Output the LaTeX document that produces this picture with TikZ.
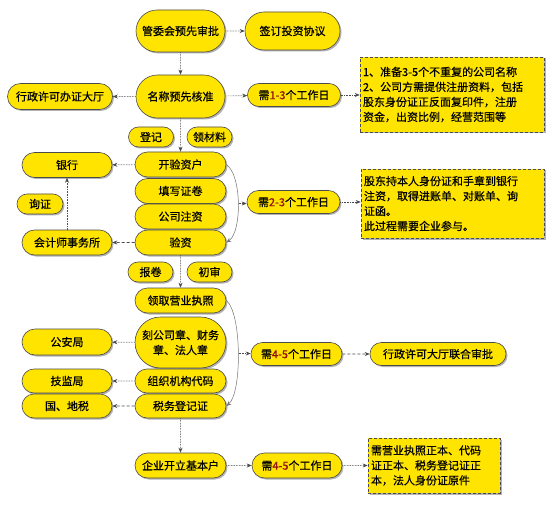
\documentclass[tikz,border=0pt]{standalone}
\usepackage{fontspec}
\setmainfont{Noto Sans CJK SC}[FakeBold=0.6]
\usetikzlibrary{shapes.misc,shadows,arrows.meta}
\definecolor{fillY}{RGB}{255,228,0}
\definecolor{edgeG}{RGB}{75,75,75}
\definecolor{digitR}{RGB}{150,20,20}
\newcommand{\dg}[1]{\textcolor{digitR}{#1}}
\begin{document}
\begin{tikzpicture}[x=1pt,y=-1pt,
  pill/.style={rounded rectangle, draw=edgeG, line width=0.6pt, fill=fillY,
    inner sep=0pt, align=center,
    drop shadow={shadow xshift=1.5pt,shadow yshift=-1.5pt,fill=black!30,opacity=1},
    font=\fontsize{11}{15}\selectfont},
  tbox/.style={rectangle, draw=edgeG, line width=0.6pt, densely dashed, fill=fillY,
    inner sep=0pt, align=left,
    drop shadow={shadow xshift=1.5pt,shadow yshift=-1.5pt,fill=black!30,opacity=1},
    font=\fontsize{11}{15}\selectfont},
  conn/.style={draw=edgeG, line width=0.6pt, densely dotted, -{Stealth[length=5pt,width=4pt]}},
  dconn/.style={conn, densely dashed},
  curv/.style={draw=black!55, line width=0.5pt, -{Stealth[length=5pt,width=4pt]}},
]
\fill[white] (0,0) rectangle (554,505);
\useasboundingbox (0,0) rectangle (554,505);

% top
\node[pill, minimum width=89pt, minimum height=42pt] (gwh) at (180.5,31) {管委会预先审批};
\node[pill, minimum width=95pt, minimum height=38pt] (qd) at (292.5,31) {签订投资协议};
\node[pill, minimum width=89pt, minimum height=43pt] (mc) at (180.5,96.5) {名称预先核准};
\node[pill, minimum width=105pt, minimum height=26pt] (xz) at (60,96.5) {行政许可办证大厅};
\node[pill, minimum width=93pt, minimum height=23pt] (x13) at (294,95) {需\dg{1-3}个工作日};
\node[tbox, minimum width=184pt, minimum height=75pt, text width=178pt] (tb1) at (452,94.5)
  {1、准备3-5个不重复的公司名称\\2、公司方需提供注册资料，包括\\股东身份证正反面复印件，注册\\资金，出资比例，经营范围等};

% second block
\node[pill, minimum width=45pt, minimum height=20pt] (dj) at (151,137) {登记};
\node[pill, minimum width=45pt, minimum height=20pt] (lcl) at (209.5,137) {领材料};
\node[pill, minimum width=91pt, minimum height=25pt] (kh) at (180.5,164.5) {开验资户};
\node[pill, minimum width=91pt, minimum height=25pt] (tx) at (180.5,191) {填写证卷};
\node[pill, minimum width=91pt, minimum height=25pt] (gz) at (180.5,216.5) {公司注资};
\node[pill, minimum width=91pt, minimum height=25pt] (yz) at (180.5,242.5) {验资};
\node[pill, minimum width=90pt, minimum height=25pt] (yh) at (67,165) {银行};
\node[pill, minimum width=46pt, minimum height=20pt] (xzh) at (40,204) {询证};
\node[pill, minimum width=90pt, minimum height=25pt] (kj) at (67,242.5) {会计师事务所};
\node[pill, minimum width=45pt, minimum height=20pt] (bj) at (150.5,272) {报卷};
\node[pill, minimum width=45pt, minimum height=20pt] (cs) at (209.5,272) {初审};
\node[pill, minimum width=93pt, minimum height=23pt] (x23) at (293.5,202) {需\dg{2-3}个工作日};
\node[tbox, minimum width=183pt, minimum height=69pt, text width=177pt] (tb2) at (452.5,203.5)
  {股东持本人身份证和手章到银行\\注资，取得进账单、对账单、询\\证函。\\此过程需要企业参与。};

% third block
\node[pill, minimum width=91pt, minimum height=25pt] (lq) at (180.5,300.5) {领取营业执照};
\node[pill, minimum width=91pt, minimum height=51pt] (kg) at (180.5,342.5) {刻公司章、财务\\章、法人章};
\node[pill, minimum width=91pt, minimum height=24pt] (zz) at (180.5,381) {组织机构代码};
\node[pill, minimum width=91pt, minimum height=24pt] (sw) at (180.5,406) {税务登记证};
\node[pill, minimum width=90pt, minimum height=26pt] (ga) at (67,342) {公安局};
\node[pill, minimum width=90pt, minimum height=24pt] (jj) at (67,381) {技监局};
\node[pill, minimum width=90pt, minimum height=24pt] (gd) at (67,406) {国、地税};
\node[pill, minimum width=91pt, minimum height=23pt] (x45a) at (296.5,354) {需\dg{4-5}个工作日};
\node[pill, minimum width=136pt, minimum height=23pt] (xzdt) at (438,354) {行政许可大厅联合审批};

% bottom
\node[pill, minimum width=91pt, minimum height=25pt] (qy) at (180.5,465.5) {企业开立基本户};
\node[pill, minimum width=90pt, minimum height=25pt] (x45b) at (297,465.5) {需\dg{4-5}个工作日};
\node[tbox, minimum width=132pt, minimum height=55pt, text width=126pt] (tb3) at (434,465.5)
  {需营业执照正本、代码\\证正本、税务登记证正\\本，法人身份证原件};

% connectors
\draw[conn] (gwh) -- (qd);
\draw[conn] (gwh) -- (mc);
\draw[conn] (mc) -- (xz);
\draw[conn] (mc) -- (x13);
\draw[conn] (x13.east) -- (x13.east -| tb1.west);
\draw[conn] (mc) -- (kh);
\draw[conn] (kh) -- (yh);
\draw[dconn] (yz) -- (kj);
\draw[conn] (kj.north) -- (yh.south);
\draw[curv] (kh.east) .. controls (242,175) and (242,232) .. (yz.east);
\coordinate (m1) at (238.5,203.5);
\draw[conn] (m1) -- (m1 -| x23.west);
\draw[conn] (x23.east) -- (x23.east -| tb2.west);
\draw[conn] (yz) -- (lq);
\draw[conn] (kg) -- (ga);
\draw[conn] (zz) -- (jj);
\draw[dconn] (sw) -- (gd);
\draw[curv] (lq.east) .. controls (242,313) and (242,393) .. (sw.east);
\coordinate (m2) at (238.5,353.5);
\draw[conn] (m2) -- (m2 -| x45a.west);
\draw[dconn] (x45a) -- (xzdt);
\draw[conn] (sw) -- (qy);
\draw[conn] (qy) -- (x45b);
\draw[conn] (x45b) -- (tb3);
\end{tikzpicture}
\end{document}
